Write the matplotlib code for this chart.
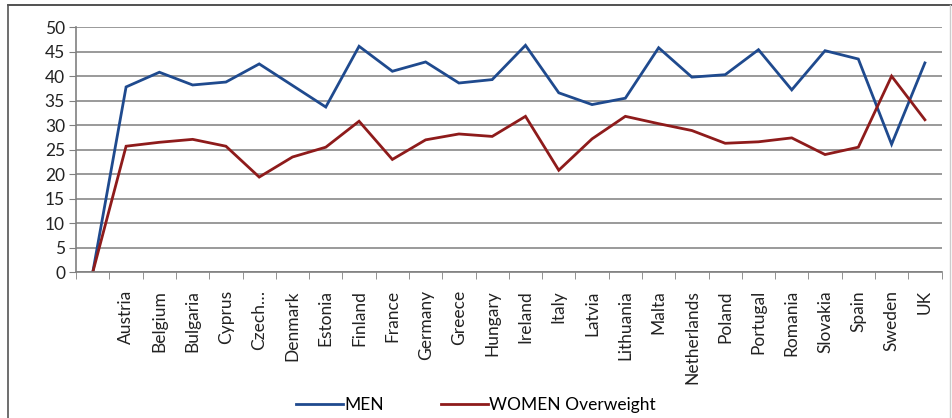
import matplotlib
matplotlib.use("Agg")
import matplotlib.pyplot as plt
from matplotlib.lines import Line2D

categories = ["", "Austria", "Belgium", "Bulgaria", "Cyprus", "Czech…", "Denmark", "Estonia",
              "Finland", "France", "Germany", "Greece", "Hungary", "Ireland", "Italy", "Latvia",
              "Lithuania", "Malta", "Netherlands", "Poland", "Portugal", "Romania", "Slovakia",
              "Spain", "Sweden", "UK"]
men = [0, 37.8, 40.8, 38.2, 38.8, 42.5, 38.1, 33.7, 46.1, 41.0, 42.9, 38.6, 39.3, 46.3,
       36.6, 34.2, 35.5, 45.8, 39.8, 40.3, 45.4, 37.2, 45.2, 43.5, 26.1, 42.7]
women = [0, 25.7, 26.5, 27.1, 25.7, 19.4, 23.5, 25.5, 30.8, 23.0, 27.0, 28.2, 27.7, 31.8,
         20.8, 27.2, 31.8, 30.3, 28.9, 26.3, 26.6, 27.4, 24.0, 25.5, 40.0, 31.1]
yticks = list(range(0, 51, 5))

plt.rcParams['font.family'] = ['Lato', 'DejaVu Sans']

fig = plt.figure(figsize=(9.52, 4.18), dpi=100)
ax = fig.add_axes([0.080, 0.349, 0.909, 0.586])

x = list(range(len(categories)))
ax.plot(x, men, color='#1F4A8E', lw=2.0, label='MEN', solid_joinstyle='miter')
ax.plot(x, women, color='#8E1B1B', lw=2.0, label='WOMEN Overweight', solid_joinstyle='miter')

ax.set_xlim(-0.5, len(categories) - 0.5)
ax.set_ylim(0, 50)
ax.set_yticks(yticks)
ax.set_yticklabels([str(t) for t in yticks], fontsize=12.5, color='#222222')
ax.yaxis.grid(True, color='#9a9a9a', lw=1.4)
ax.set_axisbelow(True)

# category labels at centres, tick marks at boundaries
ax.set_xticks(x)
ax.set_xticklabels(categories, rotation=90, fontsize=12.5, color='#222222')
ax.tick_params(axis='x', length=0, pad=13)
ax.set_xticks([i - 0.5 for i in range(len(categories) + 1)], minor=True)
ax.tick_params(axis='x', which='minor', length=5, color='#808080', direction='out')
ax.tick_params(axis='y', length=5, color='#808080', direction='out', pad=3)

for s in ['top', 'right']:
    ax.spines[s].set_visible(False)
ax.spines['left'].set_color('#808080')
ax.spines['bottom'].set_color('#808080')
ax.spines['left'].set_linewidth(1.2)
ax.spines['bottom'].set_linewidth(1.2)

fig.legend(loc='center', bbox_to_anchor=(0.5, 0.03), ncol=2, frameon=False,
           fontsize=12.5, handlelength=2.7, handletextpad=0.05, columnspacing=3.3)

# outer border
fig.add_artist(Line2D([8/952, 1], [1 - 5/418, 1 - 5/418], color='#333333', lw=1.2,
                      transform=fig.transFigure))
fig.add_artist(Line2D([8/952, 8/952], [0, 1 - 5/418], color='#555555', lw=1.2,
                      transform=fig.transFigure))
fig.add_artist(Line2D([950/952, 950/952], [0, 1 - 5/418], color='#cccccc', lw=1.0,
                      transform=fig.transFigure))

fig.savefig('out.png', dpi=100)
